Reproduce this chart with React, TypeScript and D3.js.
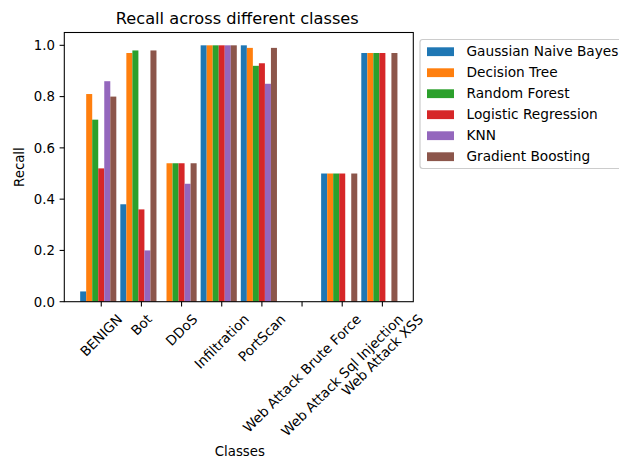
import React, { useMemo } from "react";
import * as d3 from "d3";

const categories = [
  "BENIGN",
  "Bot",
  "DDoS",
  "Infiltration",
  "PortScan",
  "Web Attack Brute Force",
  "Web Attack Sql Injection",
  "Web Attack XSS",
];

const models = [
  "Gaussian Naive Bayes",
  "Decision Tree",
  "Random Forest",
  "Logistic Regression",
  "KNN",
  "Gradient Boosting",
];

const gaussianNB = [0.04, 0.38, 0.0, 1.0, 1.0, 0.0, 0.5, 0.97];
const decisionTree = [0.81, 0.97, 0.54, 1.0, 0.99, 0.0, 0.5, 0.97];
const randomForest = [0.71, 0.98, 0.54, 1.0, 0.92, 0.0, 0.5, 0.97];
const logisticRegression = [0.52, 0.36, 0.54, 1.0, 0.93, 0.0, 0.5, 0.97];
const knn = [0.86, 0.2, 0.46, 1.0, 0.85, 0.0, 0.0, 0.0];
const gradientBoosting = [0.8, 0.98, 0.54, 1.0, 0.99, 0.0, 0.5, 0.97];

const seriesValues = [gaussianNB, decisionTree, randomForest, logisticRegression, knn, gradientBoosting];

const yTicks = [0.0, 0.2, 0.4, 0.6, 0.8, 1.0];

const colors = ["#1f77b4", "#ff7f0e", "#2ca02c", "#d62728", "#9467bd", "#8c564b"];

const FONT = "'DejaVu Sans', Verdana, sans-serif";
const FS = 13.3;
const LFS = 13.7;

export default function App() {
  const W = 619;
  const H = 462;
  const left = 64.3;
  const right = 413.3;
  const top = 32.5;
  const bottom = 301.7;
  const barW = 0.15;

  const n = categories.length;
  const m = models.length;
  const xMin = -barW / 2;
  const xMax = n - 1 + (m - 1) * barW + barW / 2;
  const pad = (xMax - xMin) * 0.05;

  const x = d3.scaleLinear().domain([xMin - pad, xMax + pad]).range([left, right]);
  const y = d3.scaleLinear().domain([0, 1.05]).range([bottom, top]);

  const measure = useMemo(() => {
    const c = document.createElement("canvas");
    const ctx = c.getContext("2d");
    return (t: string, fs: number) => {
      if (!ctx) return t.length * fs * 0.6;
      ctx.font = `${fs}px 'DejaVu Sans'`;
      return ctx.measureText(t).width;
    };
  }, []);

  const XFS = 13.6;
  const tickOffset = (barW * m) / 2;
  const tickLen = 4.7;
  const labelTop = bottom + tickLen + 4.7;
  const lineH = XFS * 1.164;

  const legendLeft = 420;
  const legendTop = 39.5;
  const rowH = 21;

  return (
    <svg
      width={W}
      height={H}
      style={{ position: "absolute", left: 0, top: 0, background: "#fff" }}
      fontFamily={FONT}
    >
      <rect x={0} y={0} width={W} height={H} fill="#fff" />
      {seriesValues.map((vals, si) => (
        <g key={si}>
          {vals.map((v, ci) => {
            const cx = ci + si * barW;
            const x0 = x(cx - barW / 2);
            const x1 = x(cx + barW / 2);
            return (
              <rect
                key={ci}
                x={x0}
                y={y(v)}
                width={x1 - x0}
                height={y(0) - y(v)}
                fill={colors[si]}
              />
            );
          })}
        </g>
      ))}
      <rect
        x={left}
        y={top}
        width={right - left}
        height={bottom - top}
        fill="none"
        stroke="#000"
        strokeWidth={1.07}
      />
      {yTicks.map((t) => (
        <g key={t}>
          <line x1={left - tickLen} x2={left} y1={y(t)} y2={y(t)} stroke="#000" strokeWidth={1.07} />
          <text x={left - tickLen - 4.7} y={y(t) + 4.9} textAnchor="end" fontSize={FS} fill="#000">
            {t.toFixed(1)}
          </text>
        </g>
      ))}
      {categories.map((c, i) => {
        const tx = x(i + tickOffset);
        const L = measure(c, XFS);
        const cy = labelTop + ((L + lineH) * Math.SQRT1_2) / 2;
        return (
          <g key={c}>
            <line x1={tx} x2={tx} y1={bottom} y2={bottom + tickLen} stroke="#000" strokeWidth={1.07} />
            <text
              transform={`translate(${tx},${cy}) rotate(-45)`}
              x={0}
              y={XFS * 0.346}
              textAnchor="middle"
              fontSize={XFS}
              fill="#000"
            >
              {c}
            </text>
          </g>
        );
      })}
      <text x={(left + right) / 2 - 1.5} y={24.3} textAnchor="middle" fontSize={16.2} fill="#000">
        Recall across different classes
      </text>
      <text transform={`translate(24,${(top + bottom) / 2}) rotate(-90)`} textAnchor="middle" fontSize={FS} fill="#000">
        Recall
      </text>
      <text x={(left + right) / 2 + 1} y={456} textAnchor="middle" fontSize={FS} fill="#000">
        Classes
      </text>
      <rect
        x={legendLeft}
        y={legendTop}
        width={210}
        height={129}
        rx={2.7}
        fill="#fff"
        fillOpacity={0.8}
        stroke="#cccccc"
        strokeWidth={1.2}
      />
      {models.map((md, i) => {
        const cy = 51.7 + i * rowH;
        return (
          <g key={md}>
            <rect x={427} y={cy - 4.4} width={27} height={8.8} fill={colors[i]} />
            <text x={466.5} y={cy + 4.7} fontSize={LFS} fill="#000">
              {md}
            </text>
          </g>
        );
      })}
    </svg>
  );
}
